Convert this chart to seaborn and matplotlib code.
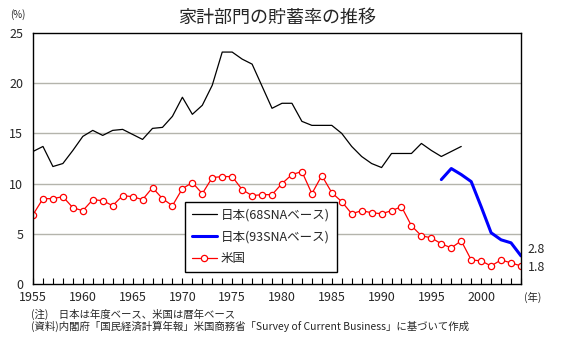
import numpy as np
import pandas as pd
import matplotlib
matplotlib.use("Agg")
import matplotlib.pyplot as plt
import seaborn as sns

# ---- data ----
years_jp68 = list(range(1955, 1999))
jp68 = [13.2, 13.7, 11.7, 12.0, 13.3, 14.7, 15.3, 14.8, 15.3, 15.4,
        14.9, 14.4, 15.5, 15.6, 16.7, 18.6, 16.9, 17.8, 19.8, 23.1,
        23.1, 22.4, 21.9, 19.7, 17.5, 18.0, 18.0, 16.2, 15.8, 15.8,
        15.8, 15.0, 13.7, 12.7, 12.0, 11.6, 13.0, 13.0, 13.0, 14.0,
        13.3, 12.7, 13.2, 13.7]
years_jp93 = list(range(1996, 2005))
jp93 = [10.4, 11.5, 10.9, 10.2, 7.7, 5.1, 4.4, 4.1, 2.8]
years_us = list(range(1955, 2005))
us = [6.9, 8.5, 8.5, 8.7, 7.6, 7.3, 8.4, 8.3, 7.8, 8.8,
      8.7, 8.4, 9.6, 8.5, 7.8, 9.5, 10.1, 9.0, 10.6, 10.7,
      10.7, 9.4, 8.8, 8.9, 8.9, 10.0, 10.9, 11.2, 9.0, 10.8,
      9.1, 8.2, 7.0, 7.3, 7.1, 7.0, 7.3, 7.7, 5.8, 4.8,
      4.6, 4.0, 3.6, 4.3, 2.4, 2.3, 1.8, 2.4, 2.1, 1.8]
labels = ["日本(68SNAベース)", "日本(93SNAベース)", "米国"]
title = "家計部門の貯蓄率の推移"
yticks = [0, 5, 10, 15, 20, 25]
xticks = list(range(1955, 2005, 5))
note1 = "(注)　日本は年度ベース、米国は暦年ベース"
note2 = "(資料)内閣府「国民経済計算年報」米国商務省「Survey of Current Business」に基づいて作成"

sns.set_theme(style="white")
plt.rcParams["font.family"] = ["Noto Sans CJK JP", "DejaVu Sans"]

df68 = pd.DataFrame({"year": years_jp68, "rate": jp68})
df93 = pd.DataFrame({"year": years_jp93, "rate": jp93})
dfus = pd.DataFrame({"year": years_us, "rate": us})

fig = plt.figure(figsize=(5.73, 3.44), dpi=100)
ax = fig.add_axes([33/573, 1-284/344, (521-33)/573, (284-33)/344])

for y in yticks[1:-1]:
    ax.axhline(y, color="#b4b4ac", lw=1.0, zorder=0)

sns.lineplot(data=df68, x="year", y="rate", ax=ax, color="black", lw=0.9, label=labels[0])
sns.lineplot(data=df93, x="year", y="rate", ax=ax, color="#0000ff", lw=2.2, label=labels[1])
sns.lineplot(data=dfus, x="year", y="rate", ax=ax, color="#ff0000", lw=0.9,
             marker="o", markersize=4.5, markerfacecolor="white",
             markeredgecolor="#ff0000", markeredgewidth=0.9, label=labels[2])

ax.set_xlim(1955, 2004)
ax.set_ylim(0, 25)
ax.set_xlabel("")
ax.set_ylabel("")
ax.set_xticks(xticks)
ax.set_xticks(years_us, minor=True)
ax.set_yticks(yticks)
ax.tick_params(axis="x", which="both", direction="in", length=4, width=0.8,
               color="black", labelsize=9, pad=5, bottom=True)
ax.tick_params(axis="y", length=0, labelsize=9, pad=7)
for lab in ax.get_yticklabels():
    lab.set_va("center_baseline")
for s in ax.spines.values():
    s.set_color("black")
    s.set_linewidth(1.0)

leg = ax.legend(loc="lower left", bbox_to_anchor=((185-33)/488, (284-272)/251),
                frameon=True, fancybox=False, edgecolor="black", fontsize=9,
                handlelength=2.0, borderpad=0.55, labelspacing=0.7,
                handletextpad=0.3, borderaxespad=0)
leg.get_frame().set_linewidth(1.0)
leg.get_frame().set_alpha(1)

ax.annotate(f"{jp93[-1]:.1f}", xy=(years_jp93[-1], jp93[-1]), xytext=(5, 0),
            textcoords="offset points", ha="left", va="bottom", fontsize=9)
ax.annotate(f"{us[-1]:.1f}", xy=(years_us[-1], us[-1]), xytext=(5, -1),
            textcoords="offset points", ha="left", va="center", fontsize=9)

fig.text(277/573, 1-18/344, title, ha="center", va="center", fontsize=13)
fig.text(10/573, 1-15/344, "(%)", ha="left", va="center", fontsize=7)
fig.text(524/573, 1-297/344, "(年)", ha="left", va="center", fontsize=7.5)
fig.text(31/573, 1-314/344, note1, ha="left", va="center", fontsize=7.5)
fig.text(31/573, 1-326/344, note2, ha="left", va="center", fontsize=7.5)

fig.savefig("out.png", dpi=100, facecolor="white")
